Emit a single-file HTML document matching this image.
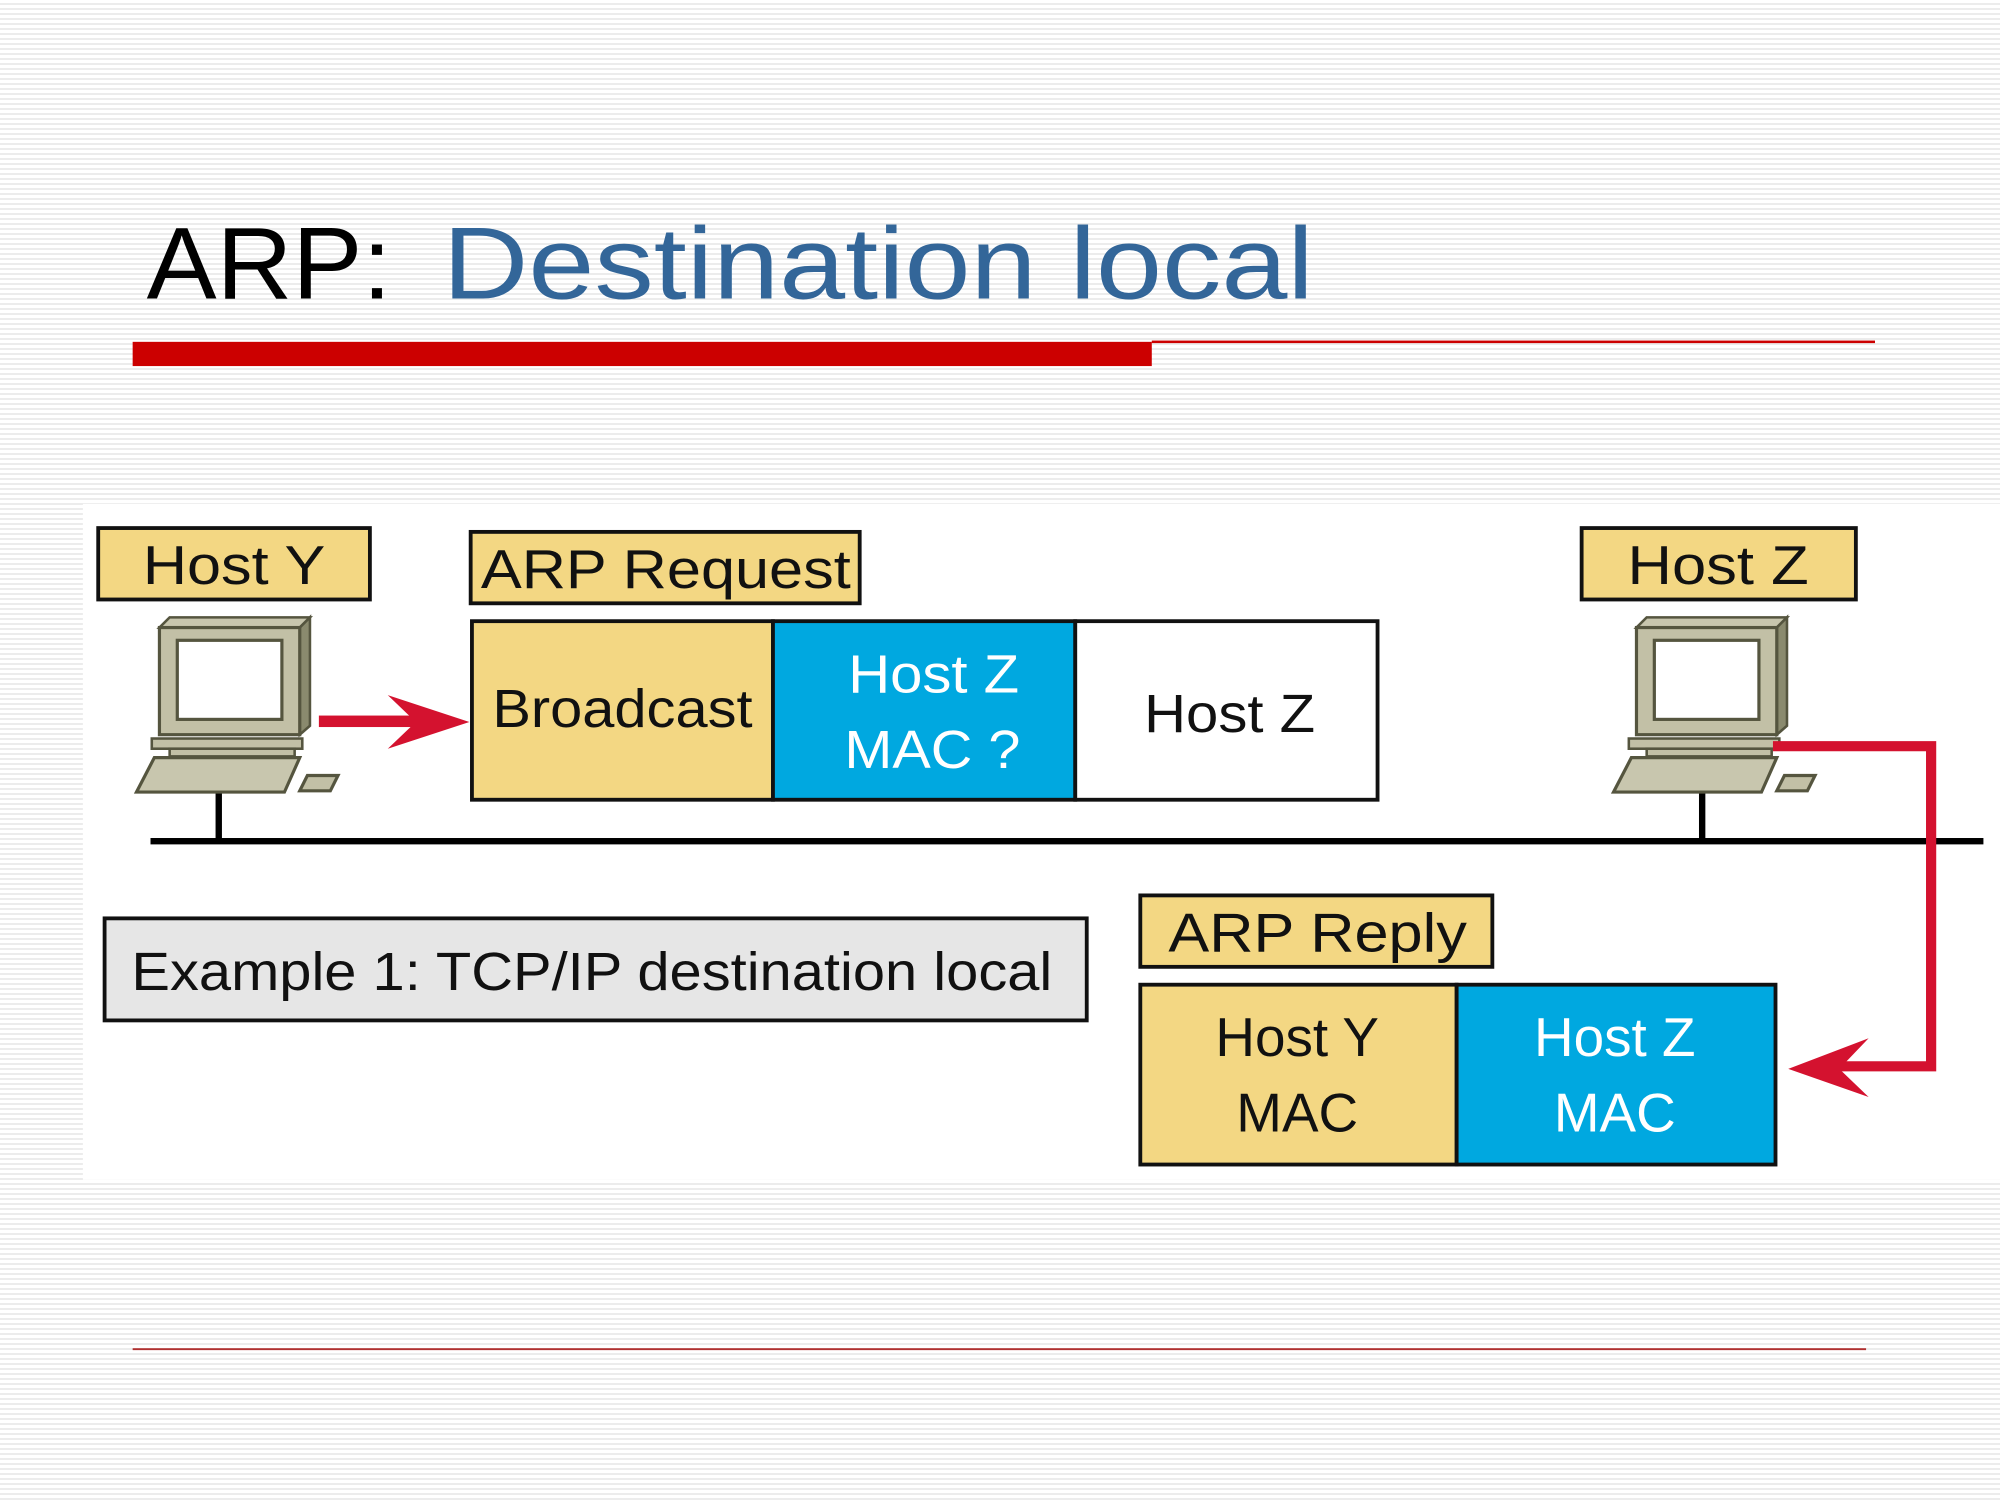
<!DOCTYPE html>
<html><head><meta charset="utf-8"><style>
html,body{margin:0;padding:0;width:2000px;height:1500px;overflow:hidden;background:#fff;}
.bg{position:absolute;left:0;top:0;width:2000px;height:1500px;background:repeating-linear-gradient(to bottom,#ffffff 0px,#ffffff 3px,#ececec 3px,#ececec 5px);}
svg{position:absolute;left:0;top:0;}
text{font-family:"Liberation Sans",Arial,sans-serif;}
</style></head><body>
<div class="bg"></div>
<svg width="2000" height="1500" viewBox="0 0 1568 1176">
<defs>
<g id="pc">
  <polygon points="0,8 8,0 118,0 110,8" fill="#c8c6ae" stroke="#55553f" stroke-width="2"/>
  <polygon points="110,8 118,0 118,85 110,92" fill="#8a8a6e" stroke="#55553f" stroke-width="2"/>
  <rect x="0" y="8" width="110" height="84" fill="#c2c0a6" stroke="#55553f" stroke-width="2.5"/>
  <rect x="14" y="18" width="82" height="62" fill="#fff" stroke="#55553f" stroke-width="2.5"/>
  <rect x="-6" y="95" width="118" height="8" fill="#c2c0a6" stroke="#55553f" stroke-width="2"/>
  <rect x="8" y="103" width="98" height="6" fill="#c2c0a6" stroke="#55553f" stroke-width="2"/>
  <polygon points="-4,110 110,110 98,137 -18,137" fill="#c8c6ae" stroke="#55553f" stroke-width="2.5"/>
  <polygon points="116,124 140,124 134,136 110,136" fill="#c2c0a6" stroke="#55553f" stroke-width="2.5"/>
</g>
</defs>
<!-- title -->
<text x="115" y="234" font-size="80" fill="#000" textLength="192" lengthAdjust="spacingAndGlyphs">ARP:</text>
<text x="347" y="234" font-size="80" fill="#336699" textLength="683" lengthAdjust="spacingAndGlyphs">Destination local</text>
<rect x="104" y="268" width="799" height="19" fill="#cc0000"/>
<rect x="903" y="267" width="567" height="2" fill="#cc0000"/>
<rect x="104" y="1057" width="1359" height="1.5" fill="#b03030"/>
<!-- diagram area -->
<rect x="65" y="395" width="1503" height="530" fill="#fff"/>
<!-- network line -->
<rect x="118" y="657" width="1437" height="5" fill="#000"/>
<rect x="169" y="622" width="5" height="38" fill="#000"/>
<rect x="1332" y="622" width="5" height="38" fill="#000"/>
<!-- pcs -->
<use href="#pc" x="125" y="484"/>
<use href="#pc" x="1283" y="484"/>
<!-- labels -->
<rect x="77" y="414" width="213" height="56" fill="#f3d783" stroke="#111" stroke-width="3"/>
<text x="112" y="458" font-size="43" fill="#111" textLength="143" lengthAdjust="spacingAndGlyphs">Host Y</text>
<rect x="369" y="417" width="305" height="56" fill="#f3d783" stroke="#111" stroke-width="3"/>
<text x="377" y="461" font-size="43" fill="#111" textLength="290" lengthAdjust="spacingAndGlyphs">ARP Request</text>
<rect x="1240" y="414" width="215" height="56" fill="#f3d783" stroke="#111" stroke-width="3"/>
<text x="1276" y="458" font-size="43" fill="#111" textLength="142" lengthAdjust="spacingAndGlyphs">Host Z</text>
<!-- request frame -->
<rect x="370" y="487" width="236" height="140" fill="#f3d783" stroke="#111" stroke-width="3"/>
<rect x="606" y="487" width="237" height="140" fill="#00a8e0" stroke="#111" stroke-width="3"/>
<rect x="843" y="487" width="237" height="140" fill="#fff" stroke="#111" stroke-width="3"/>
<text x="386" y="570" font-size="42" fill="#111" textLength="204" lengthAdjust="spacingAndGlyphs">Broadcast</text>
<text x="665" y="543" font-size="42" fill="#fff" textLength="134" lengthAdjust="spacingAndGlyphs">Host Z</text>
<text x="662" y="602" font-size="42" fill="#fff" textLength="138" lengthAdjust="spacingAndGlyphs">MAC ?</text>
<text x="897" y="574" font-size="42" fill="#111" textLength="134" lengthAdjust="spacingAndGlyphs">Host Z</text>
<!-- arrow Y -->
<rect x="250" y="561" width="85" height="9" fill="#d4122f"/>
<polygon points="304,545 368,566 304,587 326,566" fill="#d4122f"/>
<!-- arrow Z -->
<polyline points="1390,585 1514,585 1514,836 1440,836" fill="none" stroke="#d4122f" stroke-width="8"/>
<polygon points="1465,814 1402,838 1465,860 1442,838" fill="#d4122f"/>
<!-- example -->
<rect x="82" y="720" width="770" height="80" fill="#e6e6e6" stroke="#111" stroke-width="3"/>
<text x="103" y="776" font-size="42" fill="#111" textLength="722" lengthAdjust="spacingAndGlyphs">Example 1: TCP/IP destination local</text>
<!-- reply -->
<rect x="894" y="702" width="276" height="56" fill="#f3d783" stroke="#111" stroke-width="3"/>
<text x="916" y="746" font-size="43" fill="#111" textLength="234" lengthAdjust="spacingAndGlyphs">ARP Reply</text>
<rect x="894" y="772" width="248" height="141" fill="#f3d783" stroke="#111" stroke-width="3"/>
<rect x="1142" y="772" width="250" height="141" fill="#00a8e0" stroke="#111" stroke-width="3"/>
<text x="1017" y="828" font-size="43" text-anchor="middle" fill="#111">Host Y</text>
<text x="1017" y="887" font-size="43" text-anchor="middle" fill="#111">MAC</text>
<text x="1266" y="828" font-size="43" text-anchor="middle" fill="#fff">Host Z</text>
<text x="1266" y="887" font-size="43" text-anchor="middle" fill="#fff">MAC</text>
</svg>
</body></html>
